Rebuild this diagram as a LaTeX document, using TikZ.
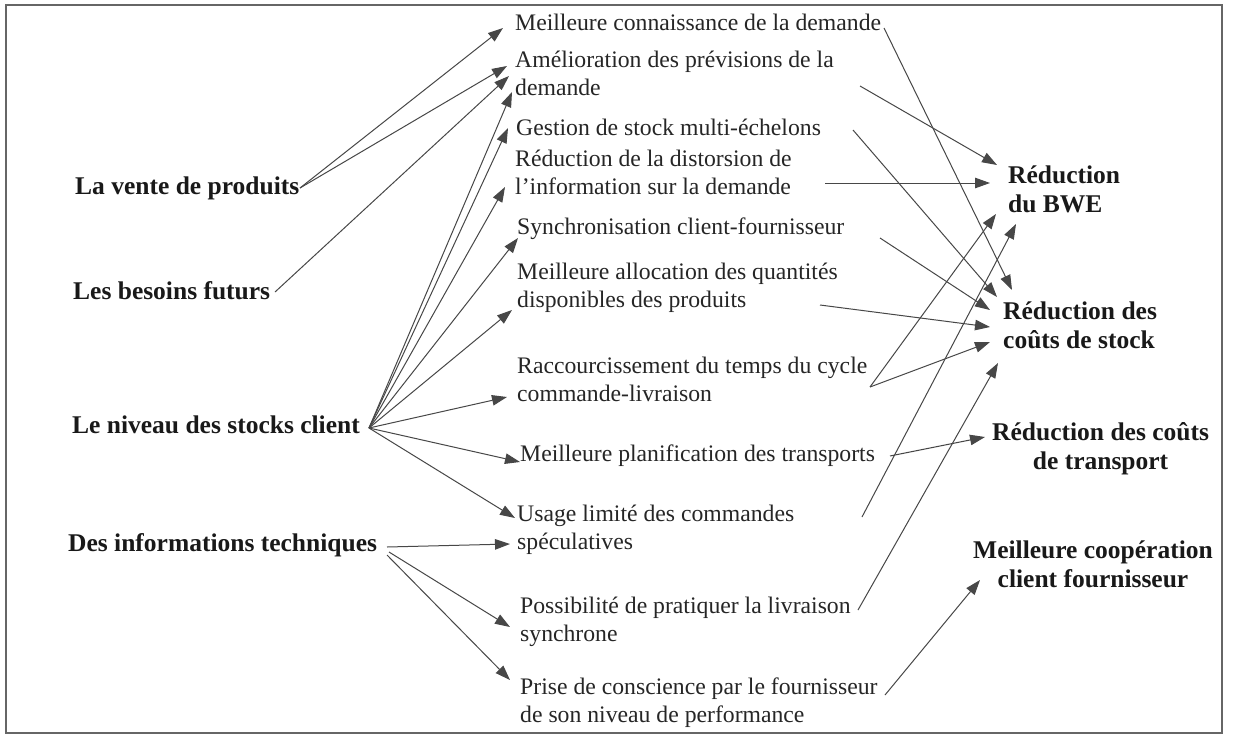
\documentclass[tikz,border=0pt]{standalone}
\usepackage{fontspec}
\setmainfont{Liberation Serif}
\usetikzlibrary{arrows.meta}
\newcommand\srcfont{\fontsize{25.5}{29}\selectfont\bfseries}
\newcommand\midfont{\fontsize{23.7}{28}\selectfont}
\begin{document}
\begin{tikzpicture}[x=1pt,y=-1pt,
  src/.style={font=\srcfont, anchor=west, inner sep=0pt, align=left, text=black!90},
  mid/.style={font=\midfont, anchor=west, inner sep=0pt, align=left, text=black!85},
  tgt/.style={font=\srcfont, anchor=west, inner sep=0pt, text=black!90},
  link/.style={draw=black!72, line width=1pt, -{Triangle[length=15pt,width=10.5pt]}},
  frame/.style={draw=black!60, line width=1.6pt}]
\useasboundingbox (0,0) rectangle (1234,739);
\fill[white] (0,0) rectangle (1234,739);
\draw[frame] (6,5) rectangle (1222,733);

% sources
\node[src] (s1) at (75,188) {La vente de produits};
\node[src] (s2) at (73,291) {Les besoins futurs};
\node[src] (s3) at (72,425) {Le niveau des stocks client};
\node[src] (s4) at (68,545) {Des informations techniques};

% middle items
\node[mid] (m1) at (515,22) {Meilleure connaissance de la demande};
\node[mid] (m2) at (515,73) {Amélioration des prévisions de la\\demande};
\node[mid] (m3) at (516,127) {Gestion de stock multi-échelons};
\node[mid] (m4) at (515,172) {Réduction de la distorsion de\\l’information sur la demande};
\node[mid] (m5) at (517,229) {Synchronisation client-fournisseur};
\node[mid] (m6) at (517,288) {Meilleure allocation des quantités\\disponibles des produits};
\node[mid] (m7) at (517,379) {Raccourcissement du temps du cycle\\commande-livraison};
\node[mid] (m8) at (520,456) {Meilleure planification des transports};
\node[mid] (m9) at (517,530) {Usage limité des commandes\\spéculatives};
\node[mid] (m10) at (520,622) {Possibilité de pratiquer la livraison\\synchrone};
\node[mid] (m11) at (520,703) {Prise de conscience par le fournisseur\\de son niveau de performance};

% targets
\node[tgt, align=left] (t1) at (1008,189) {Réduction\\du BWE};
\node[tgt, align=left] (t2) at (1003,325) {Réduction des\\coûts de stock};
\node[tgt, align=center] (t3) at (992,449) {Réduction des coûts\\de transport};
\node[tgt, align=center] (t4) at (973,564) {Meilleure coopération\\client fournisseur};

% connector end points
\coordinate (s1o) at (300,188);
\coordinate (s2o) at (275,292);
\coordinate (s3o) at (369,428);
\coordinate (s4a) at (387,547);
\coordinate (s4b) at (389,552);
\coordinate (s4c) at (387,555);

\coordinate (m1i) at (503,28);
\coordinate (m2a) at (507,66);
\coordinate (m2b) at (509,76);
\coordinate (m2c) at (512,92);
\coordinate (m3i) at (508,128);
\coordinate (m4i) at (505,187);
\coordinate (m5i) at (518,238);
\coordinate (m6i) at (512,310);
\coordinate (m7i) at (507,397);
\coordinate (m8i) at (520,462);
\coordinate (m9a) at (515,518);
\coordinate (m9b) at (510,544);
\coordinate (m10i) at (510,627);
\coordinate (m11i) at (510,680);

\coordinate (m1o) at (884,28);
\coordinate (m2o) at (860,86);
\coordinate (m3o) at (853,130);
\coordinate (m4o) at (825,183);
\coordinate (m5o) at (880,238);
\coordinate (m6o) at (820,305);
\coordinate (m7o) at (870,387);
\coordinate (m8o) at (890,456);
\coordinate (m9o) at (862,517);
\coordinate (m10o) at (858,610);
\coordinate (m11o) at (885,695);

\coordinate (t1a) at (997,165);
\coordinate (t1b) at (990,183);
\coordinate (t1c) at (996,214);
\coordinate (t1d) at (1016,224);
\coordinate (t2a) at (1012,290);
\coordinate (t2b) at (997,297);
\coordinate (t2c) at (990,310);
\coordinate (t2d) at (990,327);
\coordinate (t2e) at (990,342);
\coordinate (t2f) at (998,363);
\coordinate (t3i) at (985,437);
\coordinate (t4i) at (980,580);

% left fan
\draw[link] (s1o) -- (m1i);
\draw[link] (s1o) -- (m2a);
\draw[link] (s2o) -- (m2b);
\draw[link] (s3o) -- (m2c);
\draw[link] (s3o) -- (m3i);
\draw[link] (s3o) -- (m4i);
\draw[link] (s3o) -- (m5i);
\draw[link] (s3o) -- (m6i);
\draw[link] (s3o) -- (m7i);
\draw[link] (s3o) -- (m8i);
\draw[link] (s3o) -- (m9a);
\draw[link] (s4a) -- (m9b);
\draw[link] (s4b) -- (m10i);
\draw[link] (s4c) -- (m11i);

% right fan
\draw[link] (m1o) -- (t2a);
\draw[link] (m2o) -- (t1a);
\draw[link] (m3o) -- (t2b);
\draw[link] (m4o) -- (t1b);
\draw[link] (m5o) -- (t2c);
\draw[link] (m6o) -- (t2d);
\draw[link] (m7o) -- (t1c);
\draw[link] (m7o) -- (t2e);
\draw[link] (m8o) -- (t3i);
\draw[link] (m9o) -- (t1d);
\draw[link] (m10o) -- (t2f);
\draw[link] (m11o) -- (t4i);
\end{tikzpicture}
\end{document}
